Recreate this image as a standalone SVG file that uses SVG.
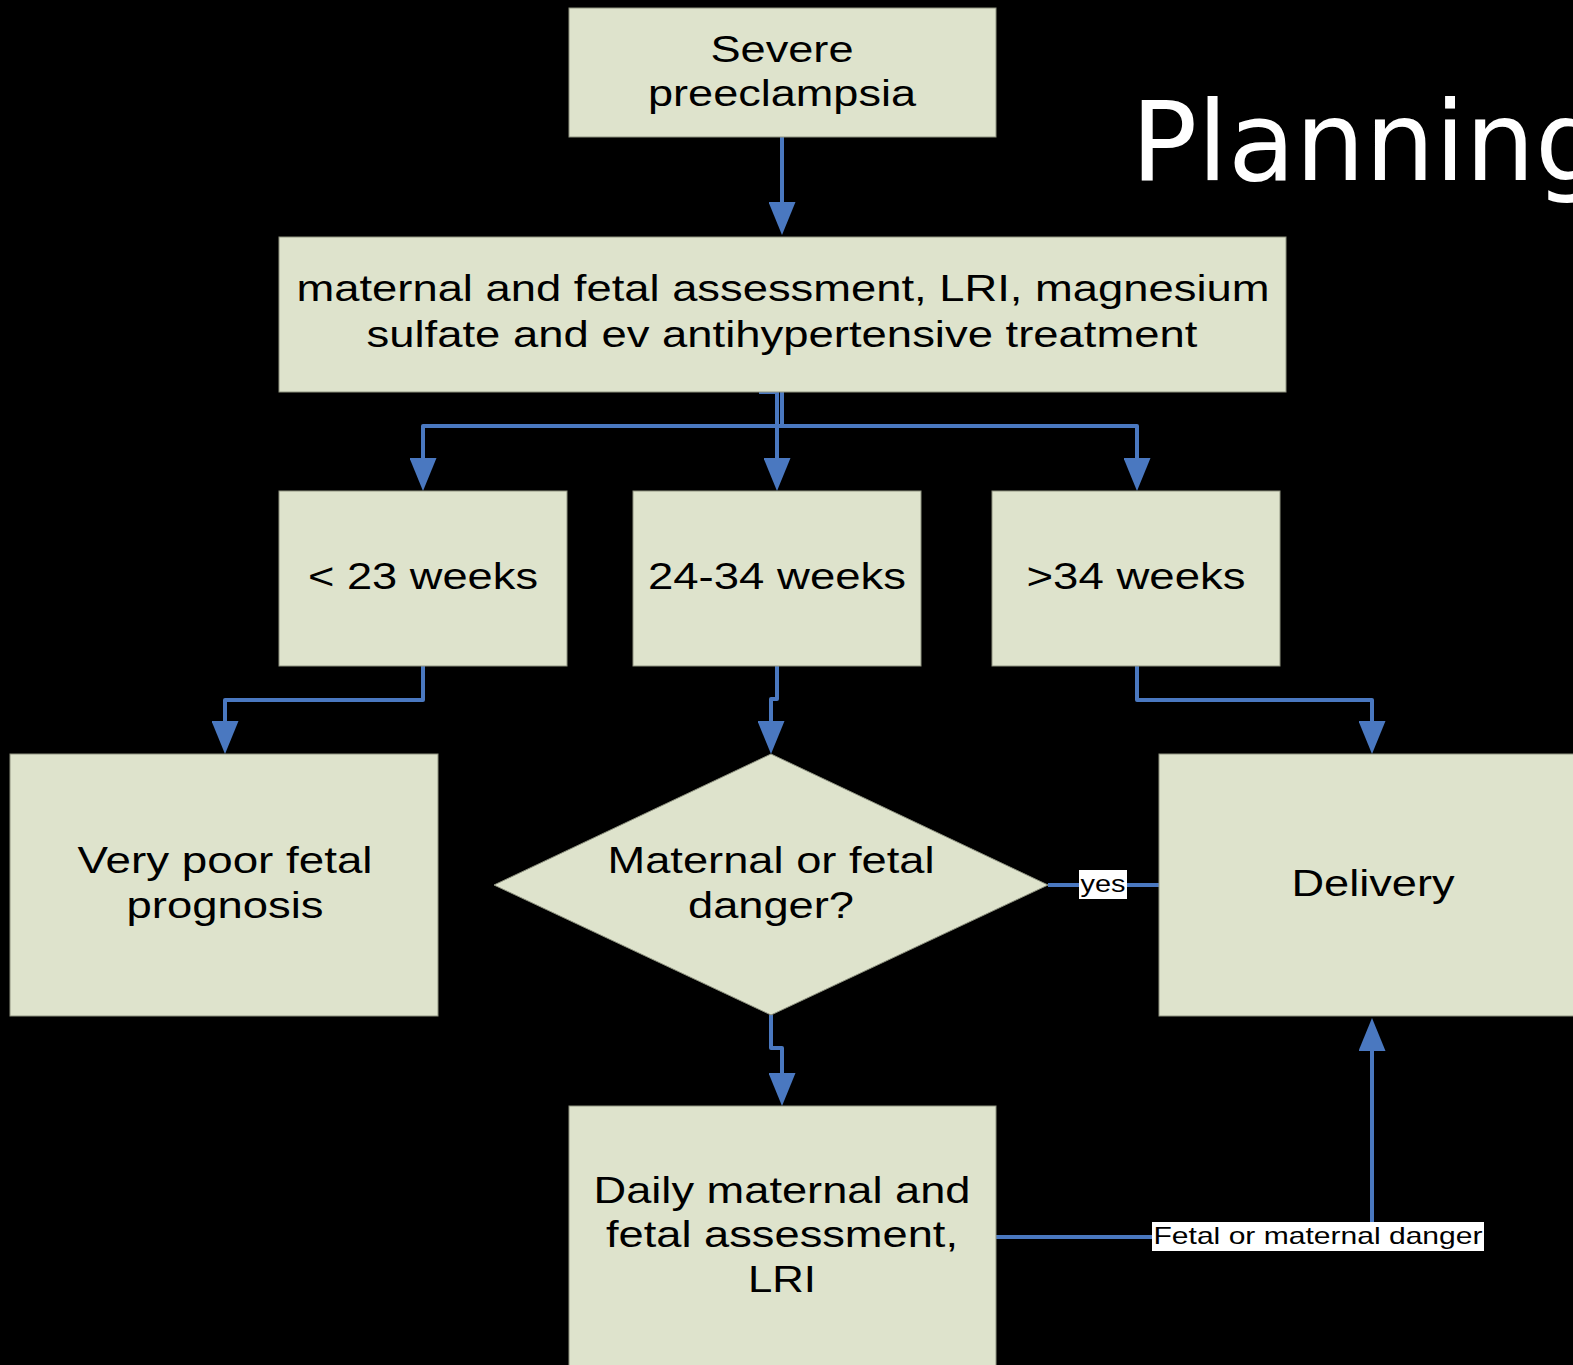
<svg xmlns="http://www.w3.org/2000/svg" width="1573" height="1365" viewBox="0 0 1573 1365">
<style>
.box{fill:#dee3cc;stroke:#8f9380;stroke-width:1}
.t{font-family:"Liberation Sans",Arial,sans-serif;font-size:36px;fill:#000;text-anchor:middle}
.c{fill:none;stroke:#4a78c0;stroke-width:4;stroke-linejoin:round}
.lbl{font-family:"Liberation Sans",Arial,sans-serif;font-size:24px;fill:#000;text-anchor:middle}
</style>
<defs>
<marker id="ah" viewBox="0 0 33 27" refX="26" refY="13.5" markerWidth="33" markerHeight="27" markerUnits="userSpaceOnUse" orient="auto">
<path d="M0,0 L33,13.5 L0,27 Z" fill="#4a78c0"/>
</marker>
</defs>
<rect x="0" y="0" width="1573" height="1365" fill="#000"/>
<text x="1131" y="180" font-family="DejaVu Sans,sans-serif" font-size="110" fill="#fff">Planning</text>

<g id="connectors">
<path class="c" d="M782,137 V228" marker-end="url(#ah)"/>
<path class="c" d="M759,392 H777 V484" marker-end="url(#ah)"/>
<path class="c" d="M782,392 V426 H423 V484" marker-end="url(#ah)"/>
<path class="c" d="M782,426 H1137 V484" marker-end="url(#ah)"/>
<path class="c" d="M423,666 V700 H225 V747" marker-end="url(#ah)"/>
<path class="c" d="M777,666 V699 H771 V747" marker-end="url(#ah)"/>
<path class="c" d="M1137,666 V700 H1372 V747" marker-end="url(#ah)"/>
<path class="c" d="M1048,885 H1159"/>
<path class="c" d="M771,1015 V1048 H782 V1099" marker-end="url(#ah)"/>
<path class="c" d="M996,1237 H1372 V1025" marker-end="url(#ah)"/>
<rect x="1079" y="870" width="48" height="29" fill="#fff"/>
<text class="lbl" x="1103" y="892" textLength="45" lengthAdjust="spacingAndGlyphs">yes</text>
<rect x="1152" y="1222" width="332" height="29" fill="#fff"/>
<text class="lbl" x="1318" y="1244" textLength="329" lengthAdjust="spacingAndGlyphs">Fetal or maternal danger</text>
</g>

<g id="n1"><rect class="box" x="569" y="8" width="427" height="129"/>
<text class="t" x="782" y="62" textLength="143" lengthAdjust="spacingAndGlyphs">Severe</text>
<text class="t" x="782" y="106" textLength="268" lengthAdjust="spacingAndGlyphs">preeclampsia</text></g>
<g id="n2"><rect class="box" x="279" y="237" width="1007" height="155"/>
<text class="t" x="783" y="301" textLength="973" lengthAdjust="spacingAndGlyphs">maternal and fetal assessment, LRI, magnesium</text>
<text class="t" x="782" y="347" textLength="831" lengthAdjust="spacingAndGlyphs">sulfate and ev antihypertensive treatment</text></g>
<g id="n3"><rect class="box" x="279" y="491" width="288" height="175"/>
<text class="t" x="423" y="589" textLength="230" lengthAdjust="spacingAndGlyphs">&lt; 23 weeks</text></g>
<g id="n4"><rect class="box" x="633" y="491" width="288" height="175"/>
<text class="t" x="777" y="589" textLength="258" lengthAdjust="spacingAndGlyphs">24-34 weeks</text></g>
<g id="n5"><rect class="box" x="992" y="491" width="288" height="175"/>
<text class="t" x="1136" y="589" textLength="219" lengthAdjust="spacingAndGlyphs">&gt;34 weeks</text></g>
<g id="n6"><rect class="box" x="10" y="754" width="428" height="262"/>
<text class="t" x="225" y="873" textLength="295" lengthAdjust="spacingAndGlyphs">Very poor fetal</text>
<text class="t" x="225" y="918" textLength="197" lengthAdjust="spacingAndGlyphs">prognosis</text></g>
<g id="n7"><polygon class="box" points="771,754 1048,885 771,1015 494,885"/>
<text class="t" x="771" y="873" textLength="327" lengthAdjust="spacingAndGlyphs">Maternal or fetal</text>
<text class="t" x="771" y="918" textLength="166" lengthAdjust="spacingAndGlyphs">danger?</text></g>
<g id="n8"><rect class="box" x="1159" y="754" width="430" height="262"/>
<text class="t" x="1373" y="896" textLength="163" lengthAdjust="spacingAndGlyphs">Delivery</text></g>
<g id="n9"><rect class="box" x="569" y="1106" width="427" height="270"/>
<text class="t" x="782" y="1203" textLength="377" lengthAdjust="spacingAndGlyphs">Daily maternal and</text>
<text class="t" x="782" y="1247" textLength="352" lengthAdjust="spacingAndGlyphs">fetal assessment,</text>
<text class="t" x="782" y="1292" textLength="68" lengthAdjust="spacingAndGlyphs">LRI</text></g>
</svg>
